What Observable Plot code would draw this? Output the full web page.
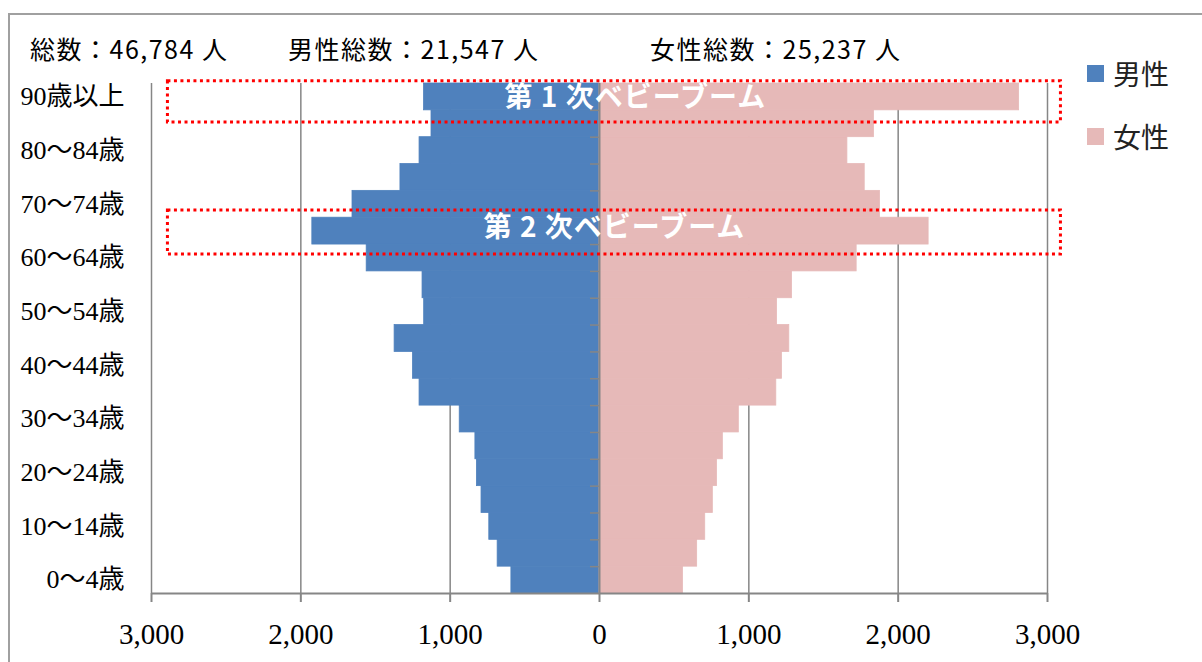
<!DOCTYPE html>
<html>
<head>
<meta charset="utf-8">
<script src="https://cdn.jsdelivr.net/npm/d3@7"></script>
<script src="https://cdn.jsdelivr.net/npm/@observablehq/plot@0.6"></script>
<style>
  html, body { margin: 0; padding: 0; background: #fff; overflow: hidden; }
  #wrap { position: relative; width: 1202px; height: 662px; overflow: hidden; }
  #border { position: absolute; left: 8px; top: 13px; width: 1220px; height: 720px; border: 2px solid #a0a0a0; box-sizing: border-box; }
  #chart { position: absolute; left: 0; top: 0; }
  .hdr { position: absolute; top: 33px; font-family: "Noto Sans CJK JP", sans-serif; font-size: 25px; line-height: 30px; letter-spacing: 1.5px; color: #000; white-space: nowrap; font-weight: normal; }
  .leg { position: absolute; left: 1087px; font-family: "Noto Sans CJK JP", sans-serif; font-size: 28px; line-height: 34px; color: #222; white-space: nowrap; display: flex; align-items: center; }
  .leg .sw { width: 17px; height: 17px; margin-right: 9px; }
  #chart g[aria-label="text"] text { letter-spacing: 1px; }
</style>
</head>
<body>
<div id="wrap">
  <div id="border"></div>
  <div id="chart"></div>
</div>
<script>
// ---- data ----
const ages = ["0～4歳","5～9歳","10～14歳","15～19歳","20～24歳","25～29歳","30～34歳","35～39歳","40～44歳","45～49歳","50～54歳","55～59歳","60～64歳","65～69歳","70～74歳","75～79歳","80～84歳","85～89歳","90歳以上"];
const male   = [590, 682, 738, 790, 821, 831, 936, 1205, 1249, 1372, 1174, 1185, 1559, 1923, 1654, 1333, 1205, 1125, 1175];
const female = [559, 654, 708, 759, 787, 826, 933, 1184, 1222, 1271, 1189, 1289, 1722, 2204, 1878, 1776, 1660, 1838, 2810];
const seriesNames = ["男性", "女性"];
const seriesColors = ["#4f81bd", "#e6b9b8"];
const headerTexts = ["総数：46,784 人", "男性総数：21,547 人", "女性総数：25,237 人"];
const headerLeft = [30, 288, 650];
const xTicks = [-3000, -2000, -1000, 0, 1000, 2000, 3000];
const gridValues = [-3000, -2000, -1000, 1000, 2000, 3000];
// annotation boxes (x in persons, y in age-band index units)
const annoLabels = ["第 1 次ベビーブーム", "第 2 次ベビーブーム"];
const annoBoxX1 = [-2890, -2890];
const annoBoxX2 = [3090, 3090];
const annoBoxY1 = [17.55, 12.63];
const annoBoxY2 = [19.08, 14.27];
const annoTextX = [240, 100];
const annoTextY = [18.45, 13.6];

// ---- build tables ----
const rows = ages.map((a, i) => ({age: a, i, male: male[i], female: female[i]}));
const annos = annoLabels.map((t, k) => ({text: t, x1: annoBoxX1[k], x2: annoBoxX2[k], y1: annoBoxY1[k], y2: annoBoxY2[k], tx: annoTextX[k], ty: annoTextY[k]}));
const labelTicks = ages.map((a, i) => i).filter(i => i % 2 === 0).map(i => i + 0.5);
const boundaries = d3.range(1, ages.length);
const fmt = d3.format(",");
const gray = "#868686";
const serif = "'Liberation Serif', 'DejaVu Serif', 'Noto Sans CJK JP', serif";

const plot = Plot.plot({
  width: 1202,
  height: 662,
  marginLeft: 151,
  marginRight: 155,
  marginTop: 83,
  marginBottom: 69,
  style: {background: "transparent", overflow: "visible"},
  x: {domain: [-3000, 3000], label: null},
  y: {domain: [0, ages.length], label: null},
  marks: [
    Plot.ruleX(gridValues, {stroke: gray, strokeWidth: 1.5}),
    Plot.rect(rows, {x1: 0, x2: d => -d.male, y1: d => d.i, y2: d => d.i + 1, fill: seriesColors[0], stroke: seriesColors[0], strokeWidth: 0.8}),
    Plot.rect(rows, {x1: 0, x2: d => d.female, y1: d => d.i, y2: d => d.i + 1, fill: seriesColors[1], stroke: seriesColors[1], strokeWidth: 0.8}),
    Plot.ruleX([0], {stroke: gray, strokeWidth: 2}),
    Plot.ruleY(boundaries, {y: d => d, x1: 0, x2: 0, insetLeft: -9, stroke: gray, strokeWidth: 1.5}),
    Plot.ruleY([0], {stroke: gray, strokeWidth: 2}),
    Plot.axisX({ticks: xTicks, tickFormat: d => fmt(Math.abs(d)), tickSize: 9, tickPadding: 21, stroke: gray, strokeWidth: 2, fill: "#000", fontSize: 29, fontFamily: serif}),
    Plot.axisY({ticks: labelTicks, tickFormat: d => ages[Math.floor(d)], tickSize: 0, tickPadding: 27, fill: "#000", fontSize: 26, fontFamily: serif}),
    Plot.rect(annos, {x1: "x1", x2: "x2", y1: "y1", y2: "y2", fill: "none", stroke: "#ff0000", strokeWidth: 3, strokeDasharray: "3,3.5"}),
    Plot.text(annos, {x: "tx", y: "ty", text: "text", fill: "#fff", fontSize: 28, fontWeight: "bold", fontFamily: "'Noto Sans CJK JP', sans-serif"})
  ]
});
document.getElementById("chart").appendChild(plot);

const wrap = document.getElementById("wrap");
headerTexts.forEach((t, k) => {
  const d = document.createElement("div");
  d.className = "hdr";
  d.style.left = headerLeft[k] + "px";
  d.textContent = t;
  wrap.appendChild(d);
});
const legTops = [56, 119];
seriesNames.forEach((n, k) => {
  const d = document.createElement("div");
  d.className = "leg";
  d.style.top = legTops[k] + "px";
  const sw = document.createElement("span");
  sw.className = "sw";
  sw.style.background = seriesColors[k];
  const tx = document.createElement("span");
  tx.textContent = n;
  d.appendChild(sw);
  d.appendChild(tx);
  wrap.appendChild(d);
});
</script>
</body>
</html>
